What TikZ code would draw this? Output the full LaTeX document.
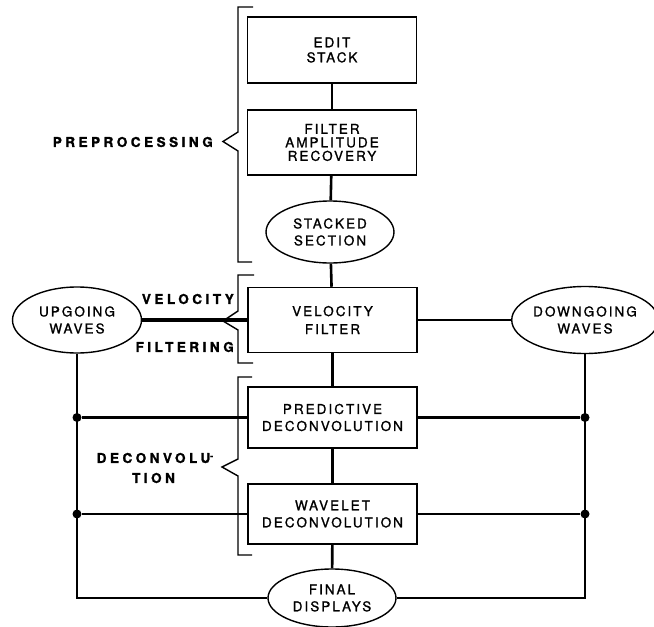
\documentclass[tikz,border=0pt]{standalone}
\usepackage{fontspec}
\usetikzlibrary{shapes.geometric}
\newfontfamily\hv[LetterSpace=15,FakeBold=1.2]{TeX Gyre Heros}
\newfontfamily\hvb[LetterSpace=26,FakeBold=1.4]{TeX Gyre Heros}
\tikzset{
  boxnode/.style={draw, line width=1.5pt, minimum width=169pt, minimum height=64pt, inner sep=0pt, align=center, font=\hv\fontsize{13.5}{15}\selectfont},
  ellnode/.style={draw, ellipse, line width=1.4pt, minimum width=128pt, minimum height=62pt, inner sep=0pt, align=center, font=\hv\fontsize{13.5}{17}\selectfont},
  conn/.style={line width=2.6pt},
  brace/.style={line width=1.4pt},
  lbl/.style={inner sep=0pt, align=center, font=\hvb\bfseries\fontsize{13.5}{20}\selectfont},
  dot/.style={circle, fill=black, inner sep=0pt, minimum size=9pt}
}
\begin{document}
\begin{tikzpicture}[x=1pt,y=-1pt]
\useasboundingbox (0,0) rectangle (654,627);
% main column
\node[boxnode, minimum height=66pt] (es) at (332,50) {EDIT\\STACK};
\node[boxnode, minimum height=65pt, font=\hv\fontsize{13.5}{13.5}\selectfont] (fa) at (332,142.5) {FILTER\\AMPLITUDE\\RECOVERY};
\node[ellnode] (ss) at (330,232) {STACKED\\SECTION};
\node[boxnode, minimum height=65pt, font=\hv\fontsize{13.5}{18}\selectfont] (vf) at (332.5,320) {VELOCITY\\FILTER};
\node[ellnode, minimum width=129pt, minimum height=66pt] (up) at (77,320) {UPGOING\\WAVES};
\node[ellnode, minimum width=129pt, minimum height=67pt] (dn) at (585,320) {DOWNGOING\\WAVES};
\node[boxnode, minimum height=61pt, font=\hv\fontsize{13.5}{17}\selectfont] (pd) at (332.5,417.5) {PREDICTIVE\\DECONVOLUTION};
\node[boxnode, minimum height=60pt, font=\hv\fontsize{13.5}{17}\selectfont] (wd) at (332.5,514) {WAVELET\\DECONVOLUTION};
\node[ellnode, minimum height=58pt] (fd) at (332,598) {FINAL\\DISPLAYS};
% vertical connectors
\draw[conn] (es) -- (fa);
\draw[conn] (fa) -- (ss);
\draw[conn] (ss) -- (vf);
\draw[conn] (vf) -- (pd);
\draw[conn] (pd) -- (wd);
\draw[conn] (wd) -- (fd);
% horizontal
\draw[line width=3.2pt] (up) -- (vf);
\draw[conn] (vf) -- (dn);
% left bus
\coordinate (lb) at (up.south |- fd.west);
\draw[conn] (up.south) -- (lb) -- (fd.west);
\node[dot] (ld1) at (up.south |- pd.west) {};
\node[dot] (ld2) at (up.south |- wd.west) {};
\draw[conn] (ld1) -- (pd.west);
\draw[conn] (ld2) -- (wd.west);
% right bus
\coordinate (rb) at (dn.south |- fd.east);
\draw[conn] (dn.south) -- (rb) -- (fd.east);
\node[dot] (rd1) at (dn.south |- pd.east) {};
\node[dot] (rd2) at (dn.south |- wd.east) {};
\draw[conn] (pd.east) -- (rd1);
\draw[conn] (wd.east) -- (rd2);
% braces
\draw[brace] (253,7) -- (238,7) -- (238,132) -- (223,141.5) -- (238,151) -- (238,262) -- (252,262);
\draw[brace] (254,275) -- (238,275) -- (238,311) -- (223,321) -- (238,330) -- (238,363) -- (253,363);
\draw[brace] (252,377) -- (238,377) -- (238,459) -- (222,467) -- (238,476) -- (238,555) -- (252,555);
% labels
\node[lbl, anchor=east] (lpre) at (213,142) {PREPROCESSING};
\node[lbl, anchor=east] (lvel) at (234,299) {VELOCITY};
\node[lbl, anchor=east] (lfil) at (234,347) {FILTERING};
\node[lbl] (ldec) at (153.5,468) {DECONVOLU\rlap{\raisebox{4pt}{\fontsize{9}{9}\selectfont -}}\\TION};
\end{tikzpicture}
\end{document}
